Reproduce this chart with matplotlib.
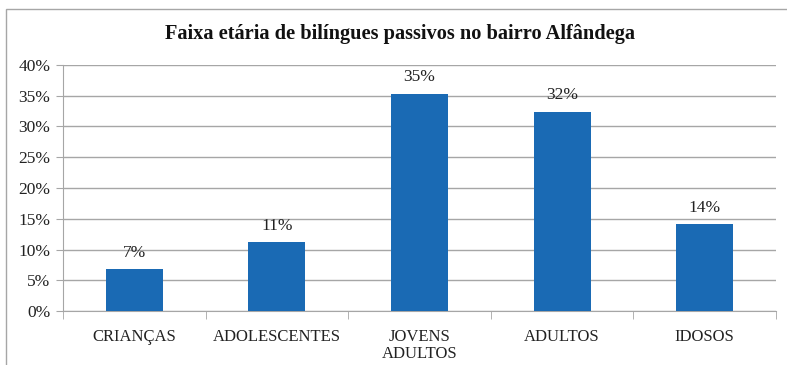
import matplotlib.pyplot as plt
from matplotlib.patches import Rectangle
from matplotlib.ticker import FuncFormatter, FixedLocator

categories = ["CRIANÇAS", "ADOLESCENTES", "JOVENS\nADULTOS", "ADULTOS", "IDOSOS"]
percent = [6.8, 11.2, 35.3, 32.4, 14.1]
yticks = [0, 5, 10, 15, 20, 25, 30, 35, 40]

plt.rcParams['font.family'] = ['Liberation Serif', 'DejaVu Serif']

fig = plt.figure(figsize=(7.87, 3.65), dpi=100)
ax = fig.add_axes([63 / 787, 1 - 311 / 365, (776 - 63) / 787, (311 - 65) / 365])

x = range(len(categories))
ax.bar(x, percent, width=0.40, color="#1A6AB4", zorder=3)
for xi, v in zip(x, percent):
    ax.text(xi, v + 1.4, f"{v:.0f}%", ha="center", va="bottom", fontsize=12.5, color="#222222")

ax.set_xlim(-0.5, len(categories) - 0.5)
ax.set_ylim(0, 40)
ax.set_yticks(yticks)
ax.yaxis.set_major_formatter(FuncFormatter(lambda v, _: f"{v:.0f}%"))
ax.grid(axis="y", color="#A6A6A6", linewidth=1, zorder=0)

ax.set_xticks(list(x))
ax.set_xticklabels(categories, fontsize=12, color="#222222", linespacing=1.05)
ax.xaxis.set_minor_locator(FixedLocator([i - 0.5 for i in range(len(categories) + 1)]))
ax.tick_params(axis="x", which="major", length=0, pad=13)
ax.tick_params(axis="x", which="minor", length=6, color="#A6A6A6", direction="out")
ax.tick_params(axis="y", length=5, color="#A6A6A6", labelsize=12.5, labelcolor="#222222", pad=4)

for side in ["top", "right"]:
    ax.spines[side].set_visible(False)
for side in ["left", "bottom"]:
    ax.spines[side].set_color("#A6A6A6")

fig.text(400 / 787, 1 - 34 / 365, "Faixa etária de bilíngues passivos no bairro Alfândega",
         ha="center", va="center", fontsize=14.7, fontweight="bold", color="#111111")

# chart frame
fig.patches.append(Rectangle((6 / 787, -0.1), 1.2, 1 - 9 / 365 + 0.1, transform=fig.transFigure,
                             fill=False, edgecolor="#A6A6A6", linewidth=1))

fig.savefig("out.png", dpi=100)
